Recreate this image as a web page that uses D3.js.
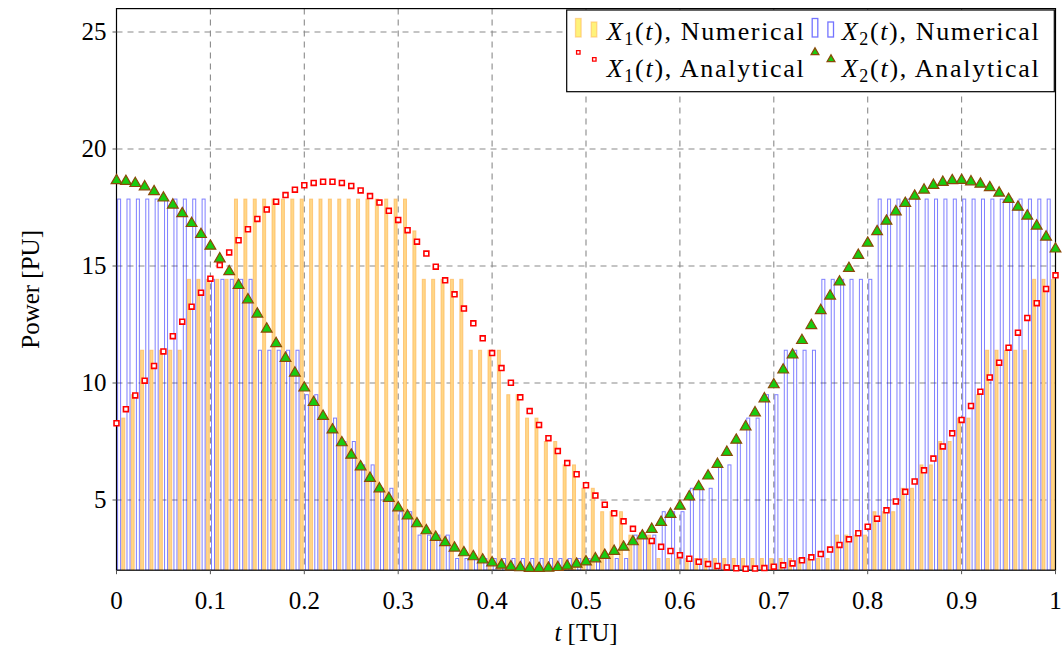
<!DOCTYPE html>
<html lang="en">
<head>
<meta charset="UTF-8">
<title>Power of X1 and X2</title>
<style>
    body {
        margin: 0;
        background: #fff;
    }
    svg {
        display: block;
        font-family: "Liberation Serif", "Times New Roman", serif;
    }
    .grid line {
        stroke: #8a8a8a;
        stroke-width: 1.1;
        stroke-dasharray: 6, 5;
    }
    .tick-label, .axis-label {
        font-size: 25px;
        fill: #000;
    }
    .legend-text {
        font-size: 26px;
        fill: #000;
    }
</style>
</head>
<body>
<div id="chart"></div>
<script src="https://d3js.org/d3.v7.min.js"></script>
<script>
// time samples [TU]
const tValues = [
    0, 0.01, 0.02, 0.03, 0.04, 0.05, 0.06, 0.07, 0.08, 0.09,
    0.1, 0.11, 0.12, 0.13, 0.14, 0.15, 0.16, 0.17, 0.18, 0.19,
    0.2, 0.21, 0.22, 0.23, 0.24, 0.25, 0.26, 0.27, 0.28, 0.29,
    0.3, 0.31, 0.32, 0.33, 0.34, 0.35, 0.36, 0.37, 0.38, 0.39,
    0.4, 0.41, 0.42, 0.43, 0.44, 0.45, 0.46, 0.47, 0.48, 0.49,
    0.5, 0.51, 0.52, 0.53, 0.54, 0.55, 0.56, 0.57, 0.58, 0.59,
    0.6, 0.61, 0.62, 0.63, 0.64, 0.65, 0.66, 0.67, 0.68, 0.69,
    0.7, 0.71, 0.72, 0.73, 0.74, 0.75, 0.76, 0.77, 0.78, 0.79,
    0.8, 0.81, 0.82, 0.83, 0.84, 0.85, 0.86, 0.87, 0.88, 0.89,
    0.9, 0.91, 0.92, 0.93, 0.94, 0.95, 0.96, 0.97, 0.98, 0.99,
    1
];

// numerical solution (bars)
const x1Numerical = [
    7.5, 8.5, 9.5, 11.4, 11.4, 11.4, 11.4, 11.4, 14.43, 14.43,
    14.43, 14.43, 14.43, 17.86, 17.86, 17.86, 17.86, 17.86, 17.86, 17.86,
    17.86, 17.86, 17.86, 17.86, 17.86, 17.86, 17.86, 17.86, 17.86, 17.86,
    17.86, 17.86, 16.5, 14.43, 14.43, 14.43, 14.43, 14.43, 11.4, 11.4,
    11.4, 11.4, 9.5, 9.5, 8.5, 8.5, 7.5, 7.5, 6.5, 6.5,
    5.5, 5.5, 4.5, 4.5, 4.5, 3.5, 3.5, 3.5, 2.5, 2.5,
    2.5, 2.5, 2.5, 2.5, 2.5, 2.5, 2.5, 2.5, 2.5, 2.5,
    2.5, 2.5, 2.5, 2.5, 2.5, 2.5, 2.5, 3.5, 3.5, 3.5,
    3.5, 4.5, 4.5, 4.5, 5.5, 5.5, 6.5, 6.5, 7.5, 7.5,
    8.5, 8.5, 9.5, 11.4, 11.4, 11.4, 11.4, 11.4, 14.43, 14.43,
    14.43
];
const x2Numerical = [
    17.86, 17.86, 17.86, 17.86, 17.86, 17.86, 17.86, 17.86, 17.86, 17.86,
    14.43, 14.43, 14.43, 14.43, 14.43, 11.4, 11.4, 11.4, 11.4, 11.4,
    9.5, 9.5, 8.5, 8.5, 7.5, 7.5, 6.5, 6.5, 5.5, 5.5,
    4.5, 4.5, 3.5, 3.5, 3.5, 3.5, 2.5, 2.5, 2.5, 2.5,
    2.5, 2.5, 2.5, 2.5, 2.5, 2.5, 2.5, 2.5, 2.5, 2.5,
    2.5, 2.5, 2.5, 2.5, 2.5, 3.5, 3.5, 3.5, 4.5, 4.5,
    4.5, 5.5, 5.5, 5.5, 6.5, 6.5, 7.5, 8.5, 8.5, 9.5,
    9.5, 11.4, 11.4, 11.4, 11.4, 14.43, 14.43, 14.43, 14.43, 14.43,
    14.43, 17.86, 17.86, 17.86, 17.86, 17.86, 17.86, 17.86, 17.86, 17.86,
    17.86, 17.86, 17.86, 17.86, 17.86, 17.86, 17.86, 17.86, 17.86, 17.86,
    17.86
];

// analytical solution (marks)
const x1Analytical = [
    8.28, 8.88, 9.47, 10.1, 10.73, 11.35, 12.0, 12.62, 13.26, 13.86,
    14.46, 15.04, 15.58, 16.1, 16.57, 17.01, 17.41, 17.75, 18.03, 18.26,
    18.45, 18.55, 18.6, 18.6, 18.55, 18.42, 18.23, 17.99, 17.71, 17.36,
    16.97, 16.53, 16.04, 15.53, 14.97, 14.39, 13.79, 13.18, 12.55, 11.91,
    11.28, 10.64, 10.01, 9.39, 8.8, 8.21, 7.64, 7.09, 6.58, 6.1,
    5.63, 5.19, 4.8, 4.43, 4.09, 3.77, 3.47, 3.25, 3.0, 2.82,
    2.64, 2.49, 2.36, 2.26, 2.18, 2.12, 2.08, 2.06, 2.07, 2.09,
    2.15, 2.21, 2.29, 2.42, 2.55, 2.69, 2.88, 3.08, 3.32, 3.58,
    3.86, 4.2, 4.56, 4.94, 5.35, 5.79, 6.27, 6.77, 7.29, 7.85,
    8.42, 9.02, 9.63, 10.24, 10.87, 11.51, 12.15, 12.78, 13.41, 14.02,
    14.6
];
const x2Analytical = [
    18.65, 18.62, 18.53, 18.39, 18.18, 17.91, 17.61, 17.24, 16.82, 16.35,
    15.85, 15.31, 14.76, 14.17, 13.56, 12.95, 12.31, 11.69, 11.06, 10.43,
    9.79, 9.17, 8.58, 8.0, 7.45, 6.92, 6.42, 5.93, 5.48, 5.07,
    4.67, 4.32, 3.99, 3.69, 3.41, 3.18, 2.95, 2.75, 2.58, 2.44,
    2.32, 2.22, 2.15, 2.11, 2.08, 2.08, 2.09, 2.12, 2.18, 2.26,
    2.36, 2.49, 2.64, 2.81, 2.99, 3.22, 3.47, 3.75, 4.05, 4.39,
    4.74, 5.14, 5.57, 6.03, 6.53, 7.04, 7.56, 8.13, 8.73, 9.33,
    9.93, 10.56, 11.2, 11.82, 12.46, 13.1, 13.72, 14.32, 14.9, 15.46,
    15.98, 16.47, 16.92, 17.32, 17.68, 17.99, 18.25, 18.45, 18.58, 18.65,
    18.66, 18.6, 18.5, 18.35, 18.12, 17.85, 17.52, 17.14, 16.71, 16.24,
    15.73
];

const xTicks = [0, 0.1, 0.2, 0.3, 0.4, 0.5, 0.6, 0.7, 0.8, 0.9, 1];
const xTickLabels = ['0', '0.1', '0.2', '0.3', '0.4', '0.5', '0.6', '0.7', '0.8', '0.9', '1'];
const yTicks = [5, 10, 15, 20, 25];
const yDomain = [2, 26];

// colours
const orangeFill = '#ffd788';
const orangeStroke = '#ffb858';
const blueStroke = '#0000ff';
const redMark = '#ff0000';
const greenMark = '#18cc10';
const brownMark = '#8a4a08';

// layout
const totalW = 1063, totalH = 654;
const margin = { top: 8.6, left: 116.5 };
const width = 939;
const height = 561.6;

const svg = d3.select('#chart')
    .append('svg')
    .attr('width', totalW)
    .attr('height', totalH);

const plot = svg.append('g')
    .attr('transform', `translate(${margin.left},${margin.top})`);

const x = d3.scaleLinear().domain([0, 1]).range([0, width]);
const y = d3.scaleLinear().domain(yDomain).range([height, 0]);

svg.append('defs').append('clipPath')
    .attr('id', 'plotClip')
    .append('rect')
    .attr('width', width)
    .attr('height', height);

// grid
const grid = plot.append('g').attr('class', 'grid');
grid.selectAll('.vg')
    .data(xTicks.slice(1, -1))
    .join('line')
    .attr('x1', d => x(d)).attr('x2', d => x(d))
    .attr('y1', 0).attr('y2', height);
grid.selectAll('.hg')
    .data(yTicks)
    .join('line')
    .attr('x1', 0).attr('x2', width)
    .attr('y1', d => y(d)).attr('y2', d => y(d));

// bars
const barW = 3;
const barShift = 2.6;
const bars = plot.append('g').attr('clip-path', 'url(#plotClip)');

bars.selectAll('rect.x1')
    .data(tValues)
    .join('rect')
    .attr('class', 'x1')
    .attr('x', d => x(d) - barShift - barW / 2)
    .attr('width', barW)
    .attr('y', (d, i) => y(x1Numerical[i]))
    .attr('height', (d, i) => y(yDomain[0]) - y(x1Numerical[i]))
    .attr('fill', orangeFill)
    .attr('stroke', orangeStroke)
    .attr('stroke-opacity', 0.7)
    .attr('stroke-width', 1);

bars.selectAll('rect.x2')
    .data(tValues)
    .join('rect')
    .attr('class', 'x2')
    .attr('x', d => x(d) + barShift - barW / 2)
    .attr('width', barW)
    .attr('y', (d, i) => y(x2Numerical[i]))
    .attr('height', (d, i) => y(yDomain[0]) - y(x2Numerical[i]))
    .attr('fill', 'none')
    .attr('stroke', blueStroke)
    .attr('stroke-opacity', 0.5)
    .attr('stroke-width', 1);

// axis frame and ticks
plot.append('rect')
    .attr('width', width)
    .attr('height', height)
    .attr('fill', 'none')
    .attr('stroke', '#000')
    .attr('stroke-width', 1.2);

plot.selectAll('.xt')
    .data(xTicks)
    .join('line')
    .attr('x1', d => x(d)).attr('x2', d => x(d))
    .attr('y1', height).attr('y2', height + 4)
    .attr('stroke', '#555');
plot.selectAll('.yt')
    .data(yTicks)
    .join('line')
    .attr('x1', -4).attr('x2', 0)
    .attr('y1', d => y(d)).attr('y2', d => y(d))
    .attr('stroke', '#555');

plot.selectAll('.xl')
    .data(xTicks)
    .join('text')
    .attr('class', 'tick-label')
    .attr('x', d => x(d))
    .attr('y', height + 39)
    .attr('text-anchor', 'middle')
    .text((d, i) => xTickLabels[i]);
plot.selectAll('.yl')
    .data(yTicks)
    .join('text')
    .attr('class', 'tick-label')
    .attr('x', -10)
    .attr('y', d => y(d) + 8.5)
    .attr('text-anchor', 'end')
    .text(d => d);

// markers
const square = d3.symbol().type(d3.symbolSquare).size(24);
const triangle = d3.symbol().type(d3.symbolTriangle).size(50);

plot.selectAll('path.x1m')
    .data(tValues)
    .join('path')
    .attr('class', 'x1m')
    .attr('transform', (d, i) => `translate(${x(d)},${y(x1Analytical[i])})`)
    .attr('d', square)
    .attr('fill', '#fff')
    .attr('stroke', redMark)
    .attr('stroke-width', 1.6);

plot.selectAll('path.x2m')
    .data(tValues)
    .join('path')
    .attr('class', 'x2m')
    .attr('transform', (d, i) => `translate(${x(d)},${y(x2Analytical[i])})`)
    .attr('d', triangle)
    .attr('fill', greenMark)
    .attr('stroke', brownMark)
    .attr('stroke-width', 1.2);

// axis labels
const xLab = svg.append('text')
    .attr('class', 'axis-label')
    .attr('x', margin.left + width / 2)
    .attr('y', 641)
    .attr('text-anchor', 'middle');
xLab.append('tspan').attr('font-style', 'italic').text('t');
xLab.append('tspan').text(' [TU]');

svg.append('text')
    .attr('class', 'axis-label')
    .attr('transform', `translate(39,${margin.top + height / 2}) rotate(-90)`)
    .attr('text-anchor', 'middle')
    .text('Power [PU]');

// legend
const legend = svg.append('g');
legend.append('rect')
    .attr('x', 566.7).attr('y', 10)
    .attr('width', 487.6).attr('height', 81.7)
    .attr('fill', '#fff')
    .attr('stroke', '#000')
    .attr('stroke-width', 1.2);

const legendItems = [
    { sub: '1', name: 'Numerical', kind: 'bar', col: 0, row: 0, fill: '#fff27a', stroke: orangeStroke },
    { sub: '2', name: 'Numerical', kind: 'bar', col: 1, row: 0, fill: 'none', stroke: blueStroke },
    { sub: '1', name: 'Analytical', kind: 'square', col: 0, row: 1 },
    { sub: '2', name: 'Analytical', kind: 'triangle', col: 1, row: 1 }
];
const colX = [575, 811.7];
const textX = [606.7, 841.7];
const rowBase = [40, 77];

legendItems.forEach(it => {
    const g = legend.append('g');
    const x0 = colX[it.col];
    if (it.kind === 'bar') {
        [[0, 18.5], [15.7, 22]].forEach(([dx, top]) => {
            g.append('rect')
                .attr('x', x0 + dx + 0.5).attr('y', top)
                .attr('width', 5.6).attr('height', 37 - top)
                .attr('fill', it.fill)
                .attr('stroke', it.stroke)
                .attr('stroke-opacity', 0.55)
                .attr('stroke-width', 1.3);
        });
    } else {
        [[3.3, 52.3], [19.3, 59.3]].forEach(([dx, cy]) => {
            g.append('path')
                .attr('transform', `translate(${x0 + dx},${cy})`)
                .attr('d', it.kind === 'square' ? d3.symbol().type(d3.symbolSquare).size(12)()
                                                 : d3.symbol().type(d3.symbolTriangle).size(26)())
                .attr('fill', it.kind === 'square' ? '#fff' : greenMark)
                .attr('stroke', it.kind === 'square' ? redMark : brownMark)
                .attr('stroke-width', 1.3);
        });
    }
    const t = g.append('text')
        .attr('class', 'legend-text')
        .attr('x', textX[it.col])
        .attr('y', rowBase[it.row])
        .attr('textLength', 197)
        .attr('lengthAdjust', 'spacing');
    t.append('tspan').attr('font-style', 'italic').text('X');
    t.append('tspan').attr('font-size', '18px').attr('dy', 5).text(it.sub);
    t.append('tspan').attr('dy', -5).text('(');
    t.append('tspan').attr('font-style', 'italic').text('t');
    t.append('tspan').text('), ' + it.name);
});
</script>
</body>
</html>
